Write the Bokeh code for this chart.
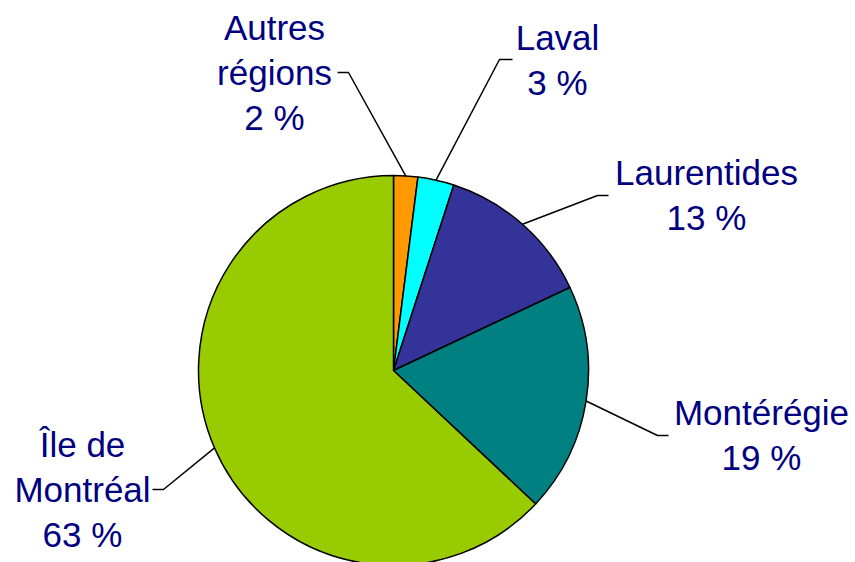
import math
from bokeh.plotting import figure
from bokeh.models import Range1d
from bokeh.core.properties import value
from bokeh.embed import file_html
from bokeh.resources import INLINE

# Data
regions = ["Autres régions", "Laval", "Laurentides", "Montérégie", "Île de Montréal"]
shares = [2, 3, 13, 19, 63]
label_lines = [["Autres", "régions", "2 %"], ["Laval", "3 %"], ["Laurentides", "13 %"],
               ["Montérégie", "19 %"], ["Île de", "Montréal", "63 %"]]
colors = ["#FF9900", "#00FFFF", "#333399", "#008080", "#99CC00"]

# Layout (screen pixels; data y = -screen y)
W, H = 855, 562
cx, cy, R = 393, -370, 195
# label anchor: (center x, first baseline y), leader elbow, leader end
label_pos = [(274, 27), (557, 37), (706, 172), (761, 412), (82, 444)]
elbows = [(348, 72), (499, 59), (597, 195), (657, 435), (163, 489)]
ends = [(337, 72), (512, 59), (608, 195), (668, 435), (152, 489)]
line_gap = 45

p = figure(width=W, height=H, output_backend="svg", toolbar_location=None,
           x_range=Range1d(0, W), y_range=Range1d(-H, 0),
           x_axis_location=None, y_axis_location=None, min_border=0,
           outline_line_color=None, match_aspect=False)
p.grid.visible = False

total = sum(shares)
cum = 0
starts, stops, mids = [], [], []
for s in shares:
    a0 = math.pi / 2 - 2 * math.pi * cum / total
    cum += s
    a1 = math.pi / 2 - 2 * math.pi * cum / total
    starts.append(a1)
    stops.append(a0)
    mids.append((a0 + a1) / 2)

p.wedge(x=cx, y=cy, radius=R, start_angle=starts, end_angle=stops,
        fill_color=colors, line_color="black", line_width=1.5)

for i in range(len(shares)):
    m = mids[i]
    sx = cx + R * math.cos(m)
    sy = cy + R * math.sin(m)
    ex, ey = elbows[i]
    fx, fy = ends[i]
    p.line([sx, ex, fx], [sy, -ey, -fy], line_color="black", line_width=1.5)
    lx, ly = label_pos[i]
    for j, t in enumerate(label_lines[i]):
        p.text(x=[lx], y=[-(ly + j * line_gap)], text=[t], text_align="center",
               text_baseline="alphabetic", text_color="#000080",
               text_font=value("Liberation Sans"), text_font_size="35px")

open("out.html", "w").write(file_html(p, INLINE))
